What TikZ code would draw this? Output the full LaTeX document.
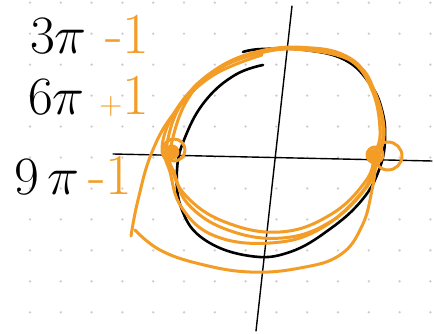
\documentclass[tikz,border=0pt]{standalone}
\usepackage{graphicx}
\usetikzlibrary{positioning}
\definecolor{pen}{RGB}{243,157,38}
\definecolor{dotc}{RGB}{205,205,205}
\newcommand{\handmath}[1]{\scalebox{2.17}{\Huge$#1$}}
\begin{document}
\begin{tikzpicture}[x=1pt,y=-1pt,
 lbl/.style={inner sep=0pt,font=\fontsize{54}{54}\selectfont},
 orn/.style={lbl,text=pen,font=\fontsize{58}{58}\selectfont},
 ink/.style={line width=2.6pt,line cap=round,line join=round},
 loop/.style={draw=pen,line width=3pt,line cap=round,line join=round},
 axis/.style={line width=1.4pt,line cap=round}]
\useasboundingbox[fill=white] (0,0) rectangle (434,334);
% dotted paper
\foreach \i in {0,...,13}
  \foreach \j in {0,...,10}
    \fill[dotc] (30+\i*30.8,2.7+\j*30.96) circle (1.3);
% labels
\node[lbl,anchor=base west] (n3) at (30,54) {\handmath{3\pi}};
\node[orn,base right=18pt of n3] (m3) {-1};
\node[lbl,anchor=base west] (n6) at (28,115) {\handmath{6\pi}};
\node[orn,base right=14pt of n6] (p6) {{\fontsize{32}{32}\selectfont+}1};
\node[lbl,anchor=base west] (n9) at (14,194) {\handmath{9\,\pi}};
\node[orn,base right=8pt of n9] (m9) {-1};
% axes
\coordinate (yt) at (292,6);
\coordinate (yb) at (256,331);
\coordinate (xl) at (113,154);
\coordinate (xr) at (432,161);
\draw[axis] (yt) -- (yb);
\draw[axis] (xl) -- (xr);
% black curve
\draw[ink] plot[smooth,tension=0.7] coordinates {(263,65) (235,75) (206,100) (186,135) (177,170)
  (182,210) (205,240) (250,256) (290,252) (330,229) (362,200) (379,170) (385,140) (382,110)
  (370,84) (345,60) (305,50) (262,49) (243,52)};
% orange loops
\draw[loop] plot[smooth cycle,tension=0.7] coordinates {(170,150) (186,102) (216,70) (260,51)
  (310,48) (350,60) (372,90) (380,130) (375,155) (365,182) (330,215) (280,232) (225,222)
  (186,196) (171,166)};
\draw[loop] plot[smooth cycle,tension=0.7] coordinates {(166,150) (180,106) (212,72) (255,53)
  (305,50) (355,63) (376,96) (383,135) (375,162) (362,192) (320,229) (270,243) (215,236)
  (182,208) (170,172)};
\draw[loop] plot[smooth cycle,tension=0.7] coordinates {(162,148) (176,110) (206,78) (246,57)
  (300,48) (346,56) (371,84) (384,128) (377,160) (366,188) (330,222) (282,238) (228,230)
  (188,204) (173,170)};
\draw[loop] plot[smooth,tension=0.7] coordinates {(262,55) (212,76) (175,112) (152,152)
  (138,200) (131,236)};
\draw[loop] plot[smooth,tension=0.7] coordinates {(135,230) (160,250) (200,264) (250,272)
  (300,268) (340,255) (362,226) (372,190) (376,162)};
% knots
\draw[loop] (174,150) circle (11);
\draw[loop] (172,152) circle (6);
\fill[pen] (172,152) circle (5);
\draw[loop] (388,156) circle (14);
\draw[loop] (375,155) circle (8);
\fill[pen] (374,156) circle (7);
\end{tikzpicture}
\end{document}
